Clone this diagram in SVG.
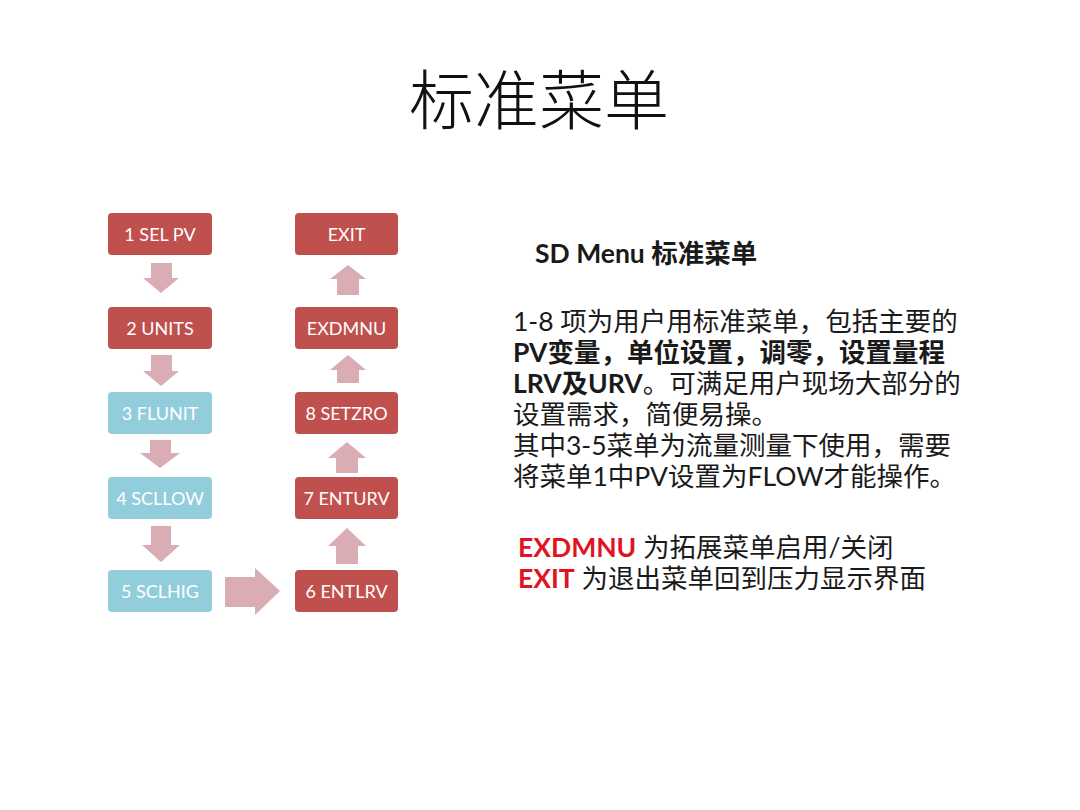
<svg xmlns="http://www.w3.org/2000/svg" width="1080" height="810" viewBox="0 0 1080 810">
<style>
.red{fill:#c0504d}
.blue{fill:#92cddc}
.lbl{font-family:Lato,"Open Sans","Liberation Sans",sans-serif;font-size:18px;fill:#ffffff;text-anchor:middle}
.arr{fill:#d9adb3}
.body{font-family:Lato,"Noto Sans CJK SC",sans-serif;font-size:26.5px;fill:#1a1a1a}
.b{font-weight:bold}
.hl{font-weight:bold;fill:#e0141e}
</style>
<rect width="1080" height="810" fill="#ffffff"/>
<text x="539" y="124" font-family="'Noto Sans CJK SC',sans-serif" font-weight="300" font-size="65" text-anchor="middle" fill="#111">标准菜单</text>
<g id="connectors">
<polygon class="arr" points="151,263 172,263 172,278 179,278 161,293 143,278 151,278"/>
<polygon class="arr" points="151,355 172,355 172,371 179,371 161,386 143,371 151,371"/>
<polygon class="arr" points="150,440 171,440 171,453 180,453 160,468 140,453 150,453"/>
<polygon class="arr" points="151,526 171,526 171,545 180,545 161,562 142,545 151,545"/>
<polygon class="arr" points="225,577 255,577 255,568 280,591 255,615 255,607 225,607"/>
<polygon class="arr" points="348,265 366,279 359,279 359,295 337,295 337,279 330,279"/>
<polygon class="arr" points="348,355 366,370 359,370 359,383 337,383 337,370 330,370"/>
<polygon class="arr" points="347,442 366,458 358,458 358,473 336,473 336,458 328,458"/>
<polygon class="arr" points="347,528 366,546 358,546 358,564 336,564 336,546 328,546"/>
</g>
<g id="n1"><rect class="red" x="108" y="213" width="104" height="42" rx="4"/><text class="lbl" x="160" y="241">1 SEL PV</text></g>
<g id="n2"><rect class="red" x="108" y="307" width="104" height="42" rx="4"/><text class="lbl" x="160" y="335">2 UNITS</text></g>
<g id="n3"><rect class="blue" x="108" y="392" width="104" height="42" rx="4"/><text class="lbl" x="160" y="420">3 FLUNIT</text></g>
<g id="n4"><rect class="blue" x="108" y="477" width="104" height="42" rx="4"/><text class="lbl" x="160" y="505">4 SCLLOW</text></g>
<g id="n5"><rect class="blue" x="108" y="570" width="104" height="42" rx="4"/><text class="lbl" x="160" y="598">5 SCLHIG</text></g>
<g id="n6"><rect class="red" x="295" y="570" width="103" height="42" rx="4"/><text class="lbl" x="346.5" y="598">6 ENTLRV</text></g>
<g id="n7"><rect class="red" x="295" y="477" width="103" height="42" rx="4"/><text class="lbl" x="346.5" y="505">7 ENTURV</text></g>
<g id="n8"><rect class="red" x="295" y="392" width="103" height="42" rx="4"/><text class="lbl" x="346.5" y="420">8 SETZRO</text></g>
<g id="nexd"><rect class="red" x="295" y="307" width="103" height="42" rx="4"/><text class="lbl" x="346.5" y="335">EXDMNU</text></g>
<g id="nexit"><rect class="red" x="295" y="213" width="103" height="42" rx="4"/><text class="lbl" x="346.5" y="241">EXIT</text></g>
<g id="desc">
<text class="body b" x="535" y="263" font-size="23">SD Menu 标准菜单</text>
<text class="body" x="513" y="331">1-8 项为用户用标准菜单，包括主要的</text>
<text class="body b" x="513" y="362">PV变量，单位设置，调零，设置量程</text>
<text class="body" x="513" y="393"><tspan class="b">LRV及URV</tspan>。可满足用户现场大部分的</text>
<text class="body" x="513" y="424">设置需求，简便易操。</text>
<text class="body" x="513" y="455">其中3-5菜单为流量测量下使用，需要</text>
<text class="body" x="513" y="486">将菜单1中PV设置为FLOW才能操作。</text>
<text class="body" x="518" y="557"><tspan class="hl">EXDMNU</tspan> 为拓展菜单启用/关闭</text>
<text class="body" x="518" y="588"><tspan class="hl">EXIT</tspan> 为退出菜单回到压力显示界面</text>
</g>
</svg>
